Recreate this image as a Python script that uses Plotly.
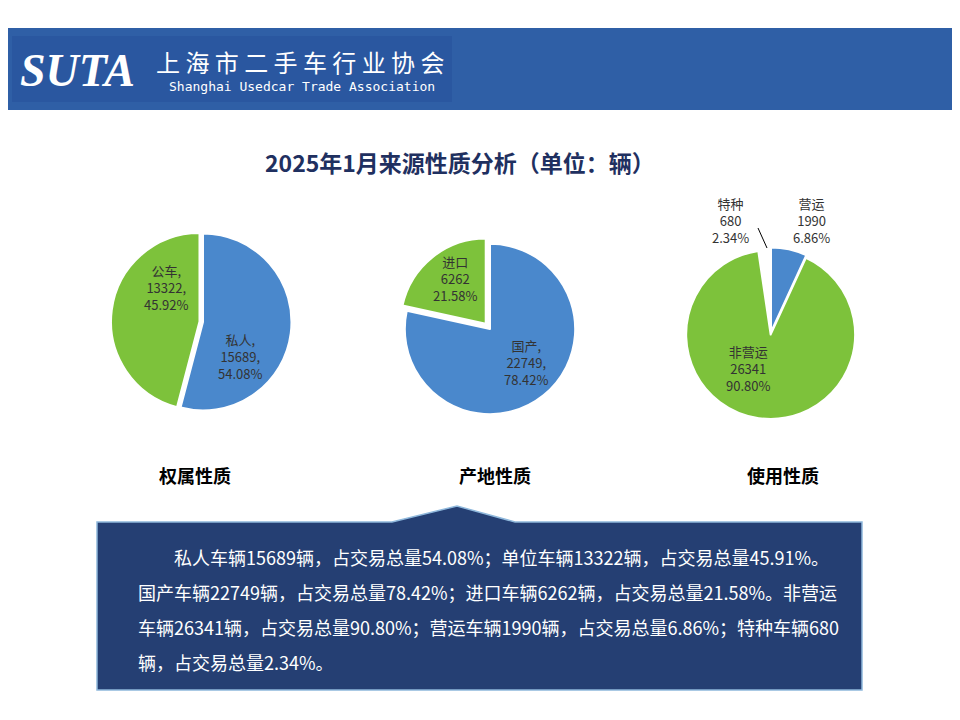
import plotly.graph_objects as go

W, H = 960, 720
OFF = 8  # 页面边距

# 数据
own_labels = ['私人', '公车']
own_values = [15689, 13322]
own_pct = ['54.08%', '45.92%']

origin_labels = ['国产', '进口']
origin_values = [22749, 6262]
origin_pct = ['78.42%', '21.58%']

use_labels = ['营运', '非营运', '特种']
use_values = [1990, 26341, 680]
use_pct = ['6.86%', '90.80%', '2.34%']

BLUE = '#4a88cc'
GREEN = '#7dc23b'
CJK = 'Noto Sans CJK SC'


def px(x, y):
    return (x - OFF) / W, 1 - (y - OFF) / H


def dom(cx, cy, r):
    x0, y0 = px(cx - r, cy + r)
    x1, y1 = px(cx + r, cy - r)
    return dict(x=[x0, x1], y=[y0, y1])


fig = go.Figure()

fig.add_trace(go.Pie(labels=own_labels, values=own_values, sort=False, direction='clockwise',
                     marker=dict(colors=[BLUE, GREEN], line=dict(color='white', width=2)),
                     pull=[0, 0.04], textinfo='none', hoverinfo='label+value+percent',
                     domain=dom(203, 322, 92), showlegend=False))
fig.add_trace(go.Pie(labels=origin_labels, values=origin_values, sort=False, direction='clockwise',
                     marker=dict(colors=[BLUE, GREEN], line=dict(color='white', width=2)),
                     pull=[0, 0.08], textinfo='none', hoverinfo='label+value+percent',
                     domain=dom(490, 329, 92), showlegend=False))
fig.add_trace(go.Pie(labels=use_labels, values=use_values, sort=False, direction='clockwise',
                     marker=dict(colors=[BLUE, GREEN, 'white'], line=dict(color='white', width=2)),
                     pull=[0, 0.03, 0.03], textinfo='none', hoverinfo='label+value+percent',
                     domain=dom(771, 332, 87), showlegend=False))

shapes = [
    dict(type='rect', xref='paper', yref='paper', x0=0, x1=1, y0=px(0, 110)[1], y1=px(0, 28)[1],
         fillcolor='#2f5fa6', line=dict(width=0), layer='below'),
    dict(type='rect', xref='paper', yref='paper', x0=px(12, 0)[0], x1=px(452, 0)[0],
         y0=px(0, 102)[1], y1=px(0, 36)[1], fillcolor='#2a57a0', line=dict(width=0), layer='below'),
    dict(type='line', xref='paper', yref='paper', x0=px(758, 0)[0], y0=px(0, 228)[1],
         x1=px(767, 0)[0], y1=px(0, 248)[1], line=dict(color='black', width=1)),
]

# 文字框（带尖角）
pts = [(97, 522), (392, 522), (457, 506), (515, 522), (862, 522), (862, 690), (97, 690)]
path = 'M ' + ' L '.join(f'{px(x, y)[0]},{px(x, y)[1]}' for x, y in pts) + ' Z'
shapes.append(dict(type='path', xref='paper', yref='paper', path=path,
                   fillcolor='#253f73', line=dict(color='#8fb8dc', width=1.5)))

ann = []


def text(x, y, s, size=13, color='#333333', bold=False, family=CJK, align='center', xanchor='center'):
    ann.append(dict(x=px(x, y)[0], y=px(x, y)[1], xref='paper', yref='paper', text=s,
                    showarrow=False, align=align, xanchor=xanchor, yanchor='middle',
                    font=dict(size=size, color=color, family=family,
                              weight='bold' if bold else 'normal')))


text(18, 70, '<i><b>SUTA</b></i>', size=46, color='white', family='Liberation Serif', xanchor='left')
text(300, 62, '上 海 市 二 手 车 行 业 协 会', size=24, color='white')
text(302, 86, 'Shanghai Usedcar Trade Association', size=13, color='white', family='DejaVu Sans Mono')

text(460, 162, '2025年1月来源性质分析（单位：辆）', size=23, color='#1f3060', bold=True)
text(195, 475, '权属性质', size=18, color='black', bold=True)
text(495, 475, '产地性质', size=18, color='black', bold=True)
text(783, 475, '使用性质', size=18, color='black', bold=True)

text(166, 288, f'{own_labels[1]},<br>{own_values[1]},<br>{own_pct[1]}')
text(240, 356, f'{own_labels[0]},<br>{own_values[0]},<br>{own_pct[0]}')
text(455, 278, f'{origin_labels[1]}<br>{origin_values[1]}<br>{origin_pct[1]}')
text(526, 362, f'{origin_labels[0]},<br>{origin_values[0]},<br>{origin_pct[0]}')
text(730, 220, f'{use_labels[2]}<br>{use_values[2]}<br>{use_pct[2]}')
text(811, 220, f'{use_labels[0]}<br>{use_values[0]}<br>{use_pct[0]}')
text(748, 368, f'{use_labels[1]}<br>{use_values[1]}<br>{use_pct[1]}')

lines = [
    '　　私人车辆15689辆，占交易总量54.08%；单位车辆13322辆，占交易总量45.91%。',
    '国产车辆22749辆，占交易总量78.42%；进口车辆6262辆，占交易总量21.58%。非营运',
    '车辆26341辆，占交易总量90.80%；营运车辆1990辆，占交易总量6.86%；特种车辆680',
    '辆，占交易总量2.34%。',
]
for i, s in enumerate(lines):
    text(136, 557 + 35 * i, s, size=18, color='white', xanchor='left', align='left')

fig.update_layout(width=W, height=H, margin=dict(l=0, r=0, t=0, b=0),
                  paper_bgcolor='white', plot_bgcolor='white',
                  shapes=shapes, annotations=ann)

fig.write_html('out.html')
